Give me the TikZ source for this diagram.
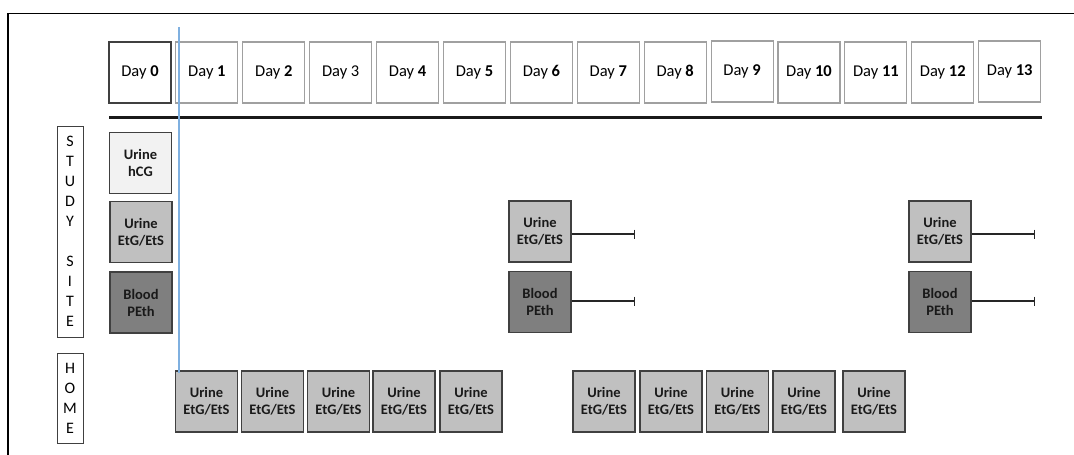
\documentclass[tikz,border=0pt]{standalone}
\usepackage{fontspec}
\setmainfont{Carlito}
\usetikzlibrary{arrows.meta}
\definecolor{edgegrey}{HTML}{404040}
\definecolor{daygrey}{HTML}{A0A0A0}
\definecolor{lightfill}{HTML}{F2F2F2}
\definecolor{midfill}{HTML}{C0C0C0}
\definecolor{darkfill}{HTML}{7F7F7F}
\definecolor{guide}{HTML}{7FB0E0}
\tikzset{
  daybox/.style={draw=daygrey, line width=1.1pt, minimum width=62pt, minimum height=61pt,
    inner sep=0pt, font=\fontsize{16.5}{19}\selectfont},
  daybox0/.style={daybox, draw=edgegrey},
  sample/.style={draw=edgegrey, line width=1.1pt, minimum width=62pt, minimum height=61pt,
    inner sep=0pt, align=center, text=black!90, font=\fontsize{14.5}{17}\selectfont\bfseries},
  hcg/.style={sample, fill=lightfill},
  etg/.style={sample, fill=midfill},
  peth/.style={sample, fill=darkfill},
  sidebox/.style={draw=edgegrey, line width=0.9pt, minimum width=26pt, inner sep=0pt,
    align=center, font=\fontsize{16}{20}\selectfont},
  window/.style={draw=black!85, line width=1.2pt, -{Bar[width=9pt,line width=1.4pt]}},
}
\begin{document}
\begin{tikzpicture}[x=1pt, y=-1pt]
  \useasboundingbox (0,0) rectangle (1074,455);
  % frame (top and left edges)
  \draw[line width=1.5pt] (8,455) -- (8,13.5) -- (1074,13.5);

  % day header
  \node[daybox0] (d0)  at (140.0,72.5) {Day \textbf{0}};
  \node[daybox]  (d1)  at (206.9,72.5) {Day \textbf{1}};
  \node[daybox]  (d2)  at (273.8,72.5) {Day \textbf{2}};
  \node[daybox]  (d3)  at (340.7,72.5) {Day 3};
  \node[daybox]  (d4)  at (407.6,72.5) {Day \textbf{4}};
  \node[daybox]  (d5)  at (474.5,72.5) {Day \textbf{5}};
  \node[daybox]  (d6)  at (541.4,72.5) {Day \textbf{6}};
  \node[daybox]  (d7)  at (608.3,72.5) {Day \textbf{7}};
  \node[daybox]  (d8)  at (675.2,72.5) {Day \textbf{8}};
  \node[daybox]  (d9)  at (742.1,71.5) {Day \textbf{9}};
  \node[daybox]  (d10) at (809.0,72.5) {Day \textbf{10}};
  \node[daybox]  (d11) at (875.9,72.5) {Day \textbf{11}};
  \node[daybox]  (d12) at (942.8,72.5) {Day \textbf{12}};
  \node[daybox]  (d13) at (1009.7,71.5) {Day \textbf{13}};

  % timeline rule
  \coordinate (ruleL) at (109,117);
  \coordinate (ruleR) at (1042,117);
  \draw[line width=3pt, black!90] (ruleL) -- (ruleR);

  % site labels
  \node[sidebox, minimum height=211pt] (study) at (70,231.5)
    {S\\T\\U\\D\\Y\\[20pt]S\\I\\T\\E};
  \node[sidebox, minimum height=90pt] (home) at (70,398)
    {H\\O\\M\\E};

  % study site, day 0
  \node[hcg]  (hcg0) at (140.5,163) {Urine\\hCG};
  \node[etg]  (etg0) at (141,232)   {Urine\\EtG/EtS};
  \node[peth] (pe0)  at (141,302.5) {Blood\\PEth};

  % study site, day 6
  \node[etg]  (etg6) at (540,231.5) {Urine\\EtG/EtS};
  \node[peth] (pe6)  at (540,302)   {Blood\\PEth};
  \coordinate (etg6end) at (635,234);
  \coordinate (pe6end)  at (635,301);
  \draw[window] (etg6.east |- etg6end) -- (etg6end);
  \draw[window] (pe6.east |- pe6end) -- (pe6end);

  % study site, day 12
  \node[etg]  (etg12) at (940,231.5) {Urine\\EtG/EtS};
  \node[peth] (pe12)  at (940,302)   {Blood\\PEth};
  \coordinate (etg12end) at (1035,234);
  \coordinate (pe12end)  at (1035,301);
  \draw[window] (etg12.east |- etg12end) -- (etg12end);
  \draw[window] (pe12.east |- pe12end) -- (pe12end);

  % home samples
  \foreach \x [count=\i] in {206.5,272.5,338.5,404,471,604,671,737.5,804,874}
    \node[etg] (h\i) at (\x,401.5) {Urine\\EtG/EtS};

  % guide line at day 1
  \coordinate (guideT) at (179,27);
  \coordinate (guideB) at (179,373);
  \draw[guide, line width=1.2pt] (guideT) -- (guideB);
\end{tikzpicture}
\end{document}
